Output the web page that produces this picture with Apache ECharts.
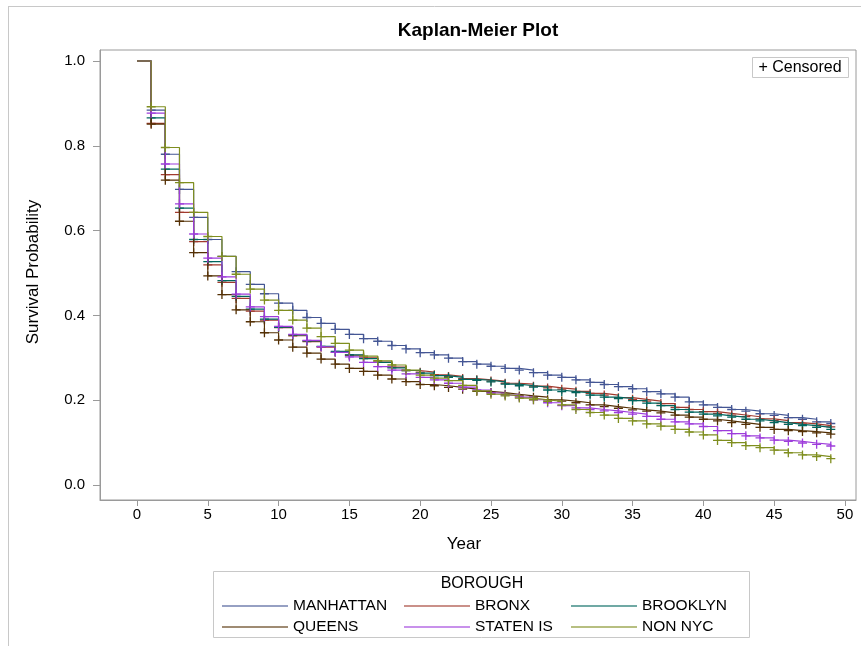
<!DOCTYPE html>
<html>
<head>
<meta charset="utf-8">
<title>Kaplan-Meier Plot</title>
<script src="https://cdn.jsdelivr.net/npm/echarts@6/dist/echarts.min.js"></script>
<style>
  html, body { margin: 0; padding: 0; background: #ffffff; }
  #chart { width: 861px; height: 646px; }
</style>
</head>
<body>
<div id="chart"></div>
<script>
// Survival estimates by borough, one value per year (year 0 .. 49)
const years = [0,1,2,3,4,5,6,7,8,9,10,11,12,13,14,15,16,17,18,19,20,21,22,23,24,25,26,27,28,29,30,31,32,33,34,35,36,37,38,39,40,41,42,43,44,45,46,47,48,49];

const manhattan = [1.000,0.884,0.780,0.697,0.631,0.579,0.539,0.503,0.473,0.451, 0.429,0.412,0.395,0.381,0.367,0.355,0.345,0.339,0.329,0.321, 0.312,0.307,0.299,0.291,0.285,0.280,0.275,0.271,0.265,0.259, 0.254,0.248,0.242,0.237,0.232,0.227,0.220,0.215,0.207,0.196, 0.189,0.183,0.178,0.174,0.168,0.164,0.159,0.155,0.149,0.145];
const bronx     = [1.000,0.853,0.732,0.643,0.574,0.519,0.478,0.440,0.410,0.389, 0.371,0.352,0.338,0.325,0.313,0.306,0.300,0.290,0.278,0.270, 0.266,0.260,0.256,0.251,0.248,0.245,0.240,0.238,0.233,0.229, 0.226,0.221,0.216,0.212,0.206,0.202,0.198,0.192,0.183,0.178, 0.173,0.169,0.165,0.161,0.156,0.152,0.147,0.144,0.140,0.137];
const brooklyn  = [1.000,0.866,0.745,0.653,0.579,0.527,0.482,0.445,0.415,0.391, 0.372,0.354,0.340,0.327,0.315,0.307,0.298,0.289,0.276,0.270, 0.264,0.258,0.254,0.249,0.247,0.243,0.238,0.234,0.231,0.224, 0.220,0.218,0.212,0.207,0.204,0.199,0.193,0.187,0.178,0.172, 0.167,0.163,0.160,0.155,0.151,0.147,0.143,0.140,0.136,0.131];
const queens    = [1.000,0.851,0.719,0.622,0.548,0.493,0.449,0.413,0.385,0.359, 0.342,0.325,0.311,0.297,0.285,0.275,0.268,0.259,0.250,0.244, 0.237,0.234,0.230,0.226,0.221,0.218,0.214,0.210,0.207,0.201, 0.198,0.194,0.189,0.185,0.181,0.177,0.174,0.170,0.165,0.160, 0.155,0.151,0.147,0.143,0.136,0.131,0.128,0.126,0.123,0.120];
const statenIs  = [1.000,0.877,0.757,0.663,0.592,0.535,0.491,0.450,0.420,0.397, 0.374,0.355,0.341,0.326,0.313,0.302,0.289,0.279,0.271,0.262, 0.254,0.248,0.240,0.231,0.224,0.217,0.212,0.207,0.201,0.194, 0.187,0.182,0.178,0.175,0.171,0.167,0.162,0.155,0.149,0.144, 0.138,0.128,0.121,0.116,0.111,0.106,0.103,0.099,0.096,0.092];
const nonNyc    = [1.000,0.892,0.796,0.713,0.643,0.586,0.539,0.497,0.462,0.436, 0.412,0.389,0.370,0.350,0.334,0.318,0.304,0.293,0.283,0.271, 0.259,0.252,0.246,0.235,0.222,0.214,0.210,0.205,0.201,0.197, 0.189,0.178,0.171,0.165,0.157,0.151,0.144,0.139,0.131,0.125, 0.118,0.105,0.100,0.093,0.088,0.082,0.076,0.071,0.067,0.062];

const boroughs = ['MANHATTAN', 'BRONX', 'BROOKLYN', 'QUEENS', 'STATEN IS', 'NON NYC'];
const xTicks = [0, 5, 10, 15, 20, 25, 30, 35, 40, 45, 50];
const yTicks = [0, 0.2, 0.4, 0.6, 0.8, 1.0];

const survival = [manhattan, bronx, brooklyn, queens, statenIs, nonNyc];
const colors = ['#445694', '#A23A2E', '#01665E', '#543005', '#9D3CDB', '#7F8E1F'];
const FONT = '"Liberation Sans", Arial, sans-serif';

// "+" marker for censored observations
const plusSymbol = 'path://M0,5L10,5M5,0L5,10';

const series = boroughs.map((name, i) => ({
  name: name,
  type: 'line',
  step: 'end',
  data: years.map((t, k) => k === 0
    ? { value: [t, survival[i][k]], symbol: 'none' }
    : [t, survival[i][k]]),
  symbol: plusSymbol,
  symbolSize: 9,
  showAllSymbol: true,
  lineStyle: { color: colors[i], width: 1.2 },
  itemStyle: { color: colors[i], borderColor: colors[i], borderWidth: 1.3 },
  emphasis: { disabled: true },
  z: 2 + i
}));

const legendCommon = {
  orient: 'vertical',
  top: 597,
  padding: 0,
  icon: 'rect',
  itemWidth: 66,
  itemHeight: 1.5,
  itemGap: 3,
  selectedMode: false,
  itemStyle: { borderWidth: 0, opacity: 0.75 },
  textStyle: { fontFamily: FONT, fontSize: 15.5, color: '#000', lineHeight: 18 }
};

const option = {
  animation: false,
  backgroundColor: '#ffffff',
  textStyle: { fontFamily: FONT },
  grid: {
    left: 100, top: 50, right: 5, bottom: 146,
    show: true, borderColor: '#9a9a9a', borderWidth: 1, backgroundColor: 'transparent'
  },
  xAxis: {
    type: 'value',
    min: -2.613, max: 50.78,
    axisLine: { show: true, onZero: false, lineStyle: { color: '#9a9a9a' } },
    axisTick: { show: true, customValues: xTicks, length: 6, lineStyle: { color: '#9a9a9a' } },
    axisLabel: { customValues: xTicks, margin: 7, fontSize: 15, color: '#000', fontFamily: FONT },
    splitLine: { show: false },
    name: 'Year', nameLocation: 'middle', nameGap: 36,
    nameTextStyle: { fontSize: 17, color: '#000', fontFamily: FONT, padding: [0, 28, 0, 0] }
  },
  yAxis: {
    type: 'value',
    min: -0.0354, max: 1.0259,
    axisLine: { show: true, onZero: false, lineStyle: { color: '#9a9a9a' } },
    axisTick: { show: true, customValues: yTicks, length: 7, lineStyle: { color: '#9a9a9a' } },
    axisLabel: {
      customValues: yTicks, margin: 15, fontSize: 15, color: '#000', fontFamily: FONT,
      formatter: v => v.toFixed(1)
    },
    splitLine: { show: false },
    name: 'Survival Probability', nameLocation: 'middle', nameGap: 58,
    nameTextStyle: { fontSize: 17, color: '#000', fontFamily: FONT, padding: [0, 0, 0, 6] }
  },
  legend: [
    Object.assign({ left: 222, data: ['MANHATTAN', 'QUEENS'] }, legendCommon),
    Object.assign({ left: 404, data: ['BRONX', 'STATEN IS'] }, legendCommon),
    Object.assign({ left: 571, data: ['BROOKLYN', 'NON NYC'] }, legendCommon)
  ],
  graphic: [
    // page frame
    { type: 'line', shape: { x1: 8, y1: 6.5, x2: 861, y2: 6.5 }, style: { stroke: '#c8c8c8', lineWidth: 1 }, silent: true },
    { type: 'line', shape: { x1: 8.5, y1: 6, x2: 8.5, y2: 646 }, style: { stroke: '#c8c8c8', lineWidth: 1 }, silent: true },
    // title
    { type: 'text', x: 478, y: 31, silent: true,
      style: { text: 'Kaplan-Meier Plot', font: 'bold 19px ' + FONT, fill: '#000', align: 'center', verticalAlign: 'middle' } },
    // censored key
    { type: 'rect', shape: { x: 752.5, y: 57.5, width: 96, height: 20 }, silent: true,
      style: { fill: '#fff', stroke: '#c8c8c8', lineWidth: 1 } },
    { type: 'text', x: 800, y: 68, silent: true,
      style: { text: '+ Censored', font: '16px ' + FONT, fill: '#000', align: 'center', verticalAlign: 'middle' } },
    // legend frame and heading
    { type: 'rect', shape: { x: 213.5, y: 571.5, width: 536, height: 66 }, silent: true, z: -1,
      style: { fill: '#fff', stroke: '#c8c8c8', lineWidth: 1 } },
    { type: 'text', x: 482, y: 584, silent: true,
      style: { text: 'BOROUGH', font: '16px ' + FONT, fill: '#000', align: 'center', verticalAlign: 'middle' } }
  ],
  series: series
};

const chart = echarts.init(document.getElementById('chart'), null, { renderer: 'canvas' });
chart.setOption(option);
</script>
</body>
</html>
